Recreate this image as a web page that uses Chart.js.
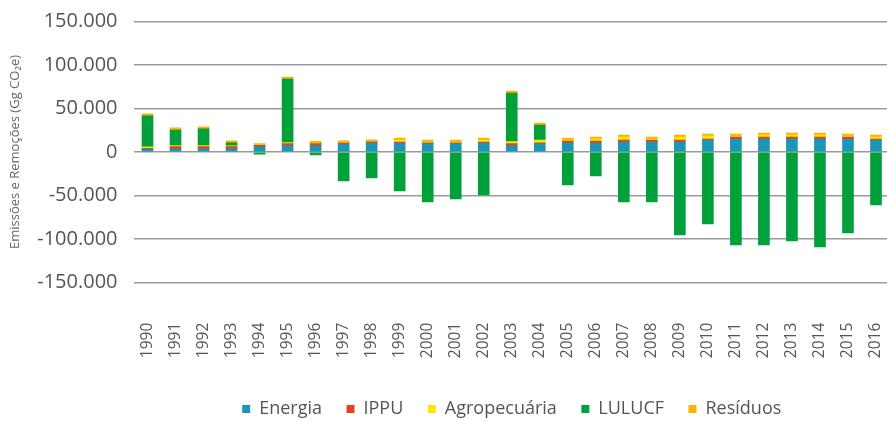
<!DOCTYPE html>
<html><head><meta charset="utf-8">
<script src="https://cdn.jsdelivr.net/npm/chart.js@4"></script>
<style>
html,body{margin:0;padding:0;overflow:hidden;background:#fff;width:887px;height:421px}
#wrap{width:890px;height:428px;position:relative}
</style>
</head><body><div id="wrap"><canvas id="c" width="890" height="428"></canvas></div>
<script>
const years = ['1990','1991','1992','1993','1994','1995','1996','1997','1998','1999','2000','2001','2002','2003','2004','2005','2006','2007','2008','2009','2010','2011','2012','2013','2014','2015','2016'];
const energia = [3300,3600,3600,3600,6100,7300,7300,9200,10300,10300,9600,9600,10300,7300,9600,10300,10300,11500,11500,11500,13800,14900,14900,14900,14900,14900,13800];
const ippu = [800,2700,2700,2700,1500,2300,2300,1100,1500,1100,800,800,1100,2300,800,2300,2300,2300,2300,2300,1100,2300,2300,2300,2300,2300,1100];
const agropecuaria = [1900,1000,1100,800,300,1100,300,300,300,2300,1100,1100,2300,2300,3400,1100,2300,3400,1100,3400,3400,1100,2300,2300,2300,1100,2300];
const lulucf = [35600,18000,19100,3400,-2500,73000,-3400,-33300,-29800,-44700,-57300,-53900,-49300,55800,17200,-37800,-27500,-57300,-57300,-95200,-82600,-106700,-106700,-102100,-109000,-92900,-60800];
const residuos = [2100,2300,2300,2300,1900,2300,2300,2300,1900,2300,2300,2300,2300,2300,2300,2300,2300,2300,2300,2300,2300,2300,2300,2300,2300,2300,2300];
const seriesNames = ['Energia','IPPU','Agropecuária','LULUCF','Resíduos'];
const seriesColors = ['#1a96b9','#e6421c','#ffe600','#00a03b','#fbb400'];
const yTicks = [-150000,-100000,-50000,0,50000,100000,150000];

function fmt(v){
  if (v === 0) return '0';
  const s = Math.abs(v).toString().replace(/\B(?=(\d{3})+(?!\d))/g,'.');
  return (v < 0 ? '-' : '') + s;
}

const legendFont = 18, legendPad = 24.5;
const chartTop = 21.3, chartBottom = 282.7, canvasH = 428;
const legendH = legendFont + legendPad + 10;

Chart.defaults.font.family = "'Open Sans', sans-serif";
const seriesData = [energia, ippu, agropecuaria, lulucf, residuos];

new Chart(document.getElementById('c'), {
  type: 'bar',
  data: {
    labels: years,
    datasets: seriesNames.map((n, i) => ({
      label: n,
      data: seriesData[i],
      backgroundColor: seriesColors[i],
      borderWidth: 0,
      barThickness: 11,
      stack: 's'
    }))
  },
  options: {
    responsive: false,
    animation: false,
    devicePixelRatio: 1,
    layout: { padding: { top: chartTop, left: 0, right: 0, bottom: 0 } },
    plugins: {
      tooltip: { enabled: false },
      legend: {
        position: 'bottom',
        fullSize: false,
        labels: {
          boxWidth: 8, boxHeight: 8, padding: legendPad,
          color: '#555',
          font: { size: legendFont }
        }
      }
    },
    scales: {
      x: {
        stacked: true,
        border: { display: false },
        grid: { display: true, drawOnChartArea: false, drawTicks: true, tickLength: 50, color: 'rgba(0,0,0,0)' },
        ticks: { minRotation: 90, maxRotation: 90, autoSkip: false, padding: -10, color: '#555', font: { size: 15.5 } },
        afterFit: (s) => { s.height = canvasH - legendH - chartBottom; }
      },
      y: {
        stacked: true,
        min: -150000, max: 150000,
        afterBuildTicks: (s) => { s.ticks = yTicks.map(v => ({ value: v })); },
        border: { display: false },
        grid: { color: '#9a9a9a', lineWidth: 1.5, drawTicks: true, tickLength: 16, tickColor: 'rgba(0,0,0,0)' },
        ticks: { padding: 0, color: '#555', font: { size: 20 }, callback: (v) => fmt(v) },
        title: {
          display: true,
          text: 'Emissões e Remoções (Gg CO₂e)',
          color: '#666',
          font: { size: 13 },
          padding: { top: 7, bottom: 0 }
        },
        afterFit: (s) => { s.width = 133.5; }
      }
    }
  }
});
</script>
</body></html>
